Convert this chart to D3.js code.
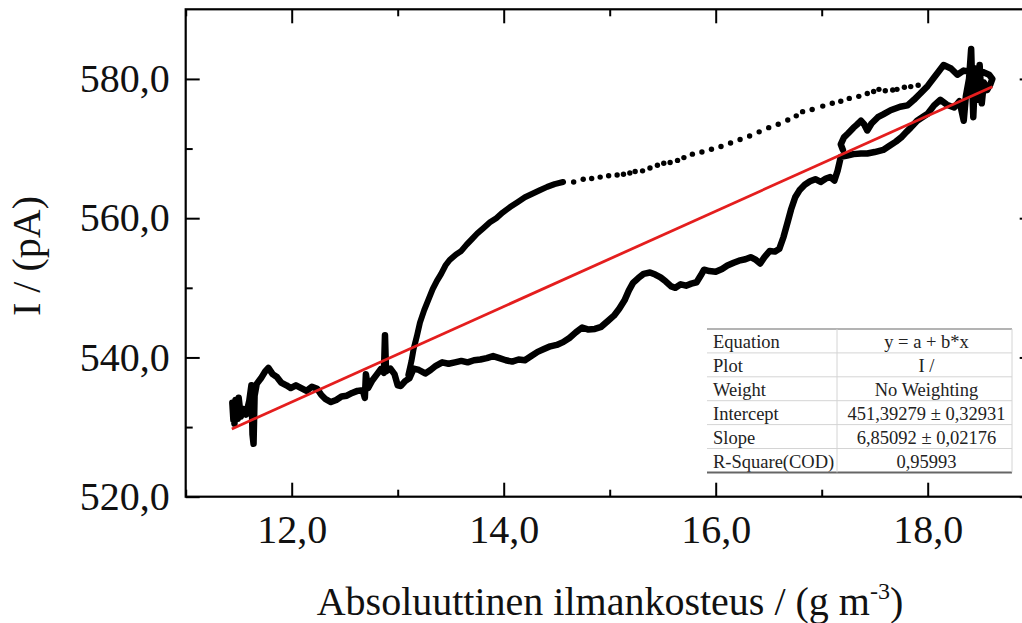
<!DOCTYPE html>
<html>
<head>
<meta charset="utf-8">
<script src="https://cdn.jsdelivr.net/npm/d3@7"></script>
<style>
  html, body { margin: 0; padding: 0; background: #fff; }
  svg { display: block; font-family: "Liberation Serif", "Times New Roman", serif; }
</style>
</head>
<body>
<svg id="chart" width="1022" height="623"></svg>
<script>
// ---------- data ----------
const xTicks = [12, 14, 16, 18];
const xTickLabels = ["12,0", "14,0", "16,0", "18,0"];
const xMinorTicks = [11, 13, 15, 17, 19];
const yTicks = [520, 540, 560, 580];
const yTickLabels = ["520,0", "540,0", "560,0", "580,0"];
const yMinorTicks = [530, 550, 570];

// main (dense) trace: rising branch + loop near high humidity
const risingX = [11.45,11.44,11.46,11.47,11.49,11.50,11.52,11.54,11.57,11.60,11.62,11.63,11.64,11.65,11.67,11.71,11.75,11.78,11.82,11.86,11.90,11.95,11.99,12.04,12.09,12.14,12.19,12.24,12.28,12.32,12.37,12.42,12.47,12.52,12.57,12.62,12.67,12.69,12.70,12.72,12.76,12.80,12.84,12.87,12.88,12.89,12.93,12.97,13.00,13.03,13.07,13.11,13.15,13.20,13.26,13.31,13.36,13.42,13.48,13.54,13.60,13.66,13.72,13.78,13.84,13.90,13.96,14.02,14.08,14.14,14.20,14.26,14.32,14.38,14.44,14.50,14.56,14.62,14.68,14.74,14.80,14.86,14.92,14.98,15.04,15.09,15.14,15.18,15.22,15.27,15.32,15.38,15.43,15.48,15.53,15.58,15.62,15.67,15.72,15.77,15.82,15.86,15.89,15.94,16.00,16.06,16.11,16.17,16.22,16.28,16.33,16.38,16.42,16.46,16.51,16.56,16.60,16.64,16.68,16.71,16.75,16.79,16.84,16.89,16.94,16.99,17.04,17.08,17.12,17.15,17.18,17.24,17.30,17.37,17.43,17.50,17.58,17.64,17.70,17.75,17.80,17.84,17.90,17.96,18.00,18.06,18.12,18.18,18.25,18.30,18.34,18.36,18.39,18.41,18.42,18.43,18.45,18.47,18.49,18.51,18.53,18.56,18.59,18.61,18.58,18.52,18.46,18.41,18.34,18.28,18.22,18.15,18.10,18.06,18.00,17.93,17.87,17.81,17.74,17.65,17.58,17.53,17.47,17.43,17.40,17.37,17.33,17.30,17.25,17.21,17.18,17.20];
const risingY = [531.0,533.5,530.5,533.9,531.2,534.2,531.5,532.6,531.8,533.8,536.0,529.0,527.6,534.5,536.2,537.0,538.0,538.5,537.6,537.2,536.4,536.0,535.6,536.0,535.6,535.2,535.8,535.5,534.6,534.0,533.6,533.9,534.4,534.5,534.9,535.2,535.3,534.2,537.6,535.6,536.7,537.5,538.3,537.8,543.2,538.0,538.4,537.6,536.0,535.9,536.6,537.0,538.4,538.2,537.7,538.2,538.8,539.3,539.1,539.3,539.5,539.3,539.6,539.7,539.9,540.2,539.9,539.6,539.4,539.7,539.6,540.2,540.8,541.2,541.6,541.8,542.2,542.8,543.6,544.3,544.0,544.1,544.4,545.2,546.0,547.0,548.2,549.6,550.7,551.4,552.0,552.2,551.9,551.5,550.9,550.2,550.0,550.5,550.3,550.6,550.8,551.8,552.6,552.4,552.3,552.7,553.2,553.6,553.9,554.1,554.4,554.0,553.5,554.4,555.3,555.2,555.6,557.3,559.5,561.2,563.0,564.0,564.8,565.3,565.6,565.2,565.7,565.9,565.4,566.8,568.8,569.0,569.2,569.3,569.3,569.5,569.8,570.4,571.0,571.6,572.4,573.0,574.0,574.6,575.0,576.2,577.0,576.3,575.9,576.8,574.0,577.5,580.0,584.3,579.0,574.5,581.5,577.0,582.0,576.5,579.5,578.4,579.2,580.0,580.6,581.0,580.2,581.0,581.2,580.6,581.5,582.0,581.0,580.2,579.0,577.9,577.0,576.2,576.0,575.5,574.9,574.5,573.6,572.6,573.5,574.0,573.4,573.0,572.2,571.6,570.6,569.8];

// return branch, dense part
const returnX = [13.10,13.13,13.15,13.18,13.21,13.25,13.29,13.33,13.37,13.41,13.45,13.49,13.55,13.60,13.65,13.70,13.75,13.81,13.87,13.93,13.99,14.06,14.13,14.20,14.27,14.34,14.41,14.48,14.56];
const returnY = [537.5,539.5,541.2,543.0,545.0,546.8,548.3,549.8,551.0,552.0,553.2,554.0,554.8,555.3,556.2,557.0,557.8,558.6,559.4,560.0,560.8,561.6,562.3,563.0,563.5,564.0,564.5,564.9,565.2];

// return branch, sparse points
const dotX = [14.66,14.75,14.83,14.91,14.99,15.07,15.13,15.19,15.24,15.31,15.38,15.45,15.51,15.57,15.64,15.70,15.78,15.87,15.96,16.05,16.14,16.23,16.32,16.41,16.50,16.59,16.68,16.76,16.82,16.91,17.01,17.10,17.18,17.26,17.35,17.43,17.49,17.54,17.60,17.67,17.71,17.78,17.84,17.91];
const dotY = [565.2,565.6,565.7,565.9,566.1,566.2,566.3,566.5,566.7,566.8,567.2,567.6,567.9,568.0,568.3,568.7,569.2,569.5,569.9,570.3,570.8,571.3,571.8,572.4,573.0,573.5,574.1,574.7,575.3,575.6,576.1,576.5,576.8,577.2,577.5,577.9,578.2,578.5,578.3,578.4,578.5,578.8,578.9,579.1];

// linear fit endpoints
const fitX = [11.435, 18.61];
const fitY = [529.73, 578.89];

// fit table
const tableLabels = ["Equation", "Plot", "Weight", "Intercept", "Slope", "R-Square(COD)"];
const tableValues = ["y = a + b*x", "I /", "No Weighting", "451,39279 \u00b1 0,32931", "6,85092 \u00b1 0,02176", "0,95993"];

// ---------- layout ----------
const svg = d3.select("#chart");
const W = 1022, H = 623;
const pLeft = 185.7, pRight = 1033.7, pTop = 9.3, pBottom = 496.7;

svg.append("rect").attr("width", W).attr("height", H).attr("fill", "#fff");

const x = d3.scaleLinear().domain([11, 19]).range([pLeft, pRight]);
const y = d3.scaleLinear().domain([520, 590]).range([pBottom, pTop]);

const fontFam = '"Liberation Serif", "Times New Roman", serif';
const tickFont = 40;

// data
const lineGen = d3.line().x(d => x(d[0])).y(d => y(d[1]));
const rising = risingX.map((v, i) => [v, risingY[i]]);
const ret = returnX.map((v, i) => [v, returnY[i]]);
const dots = dotX.map((v, i) => [v, dotY[i]]);

const plot = svg.append("g");
plot.append("path").datum(rising).attr("d", lineGen)
  .attr("fill", "none").attr("stroke", "#000").attr("stroke-width", 6.5)
  .attr("stroke-linejoin", "round").attr("stroke-linecap", "round");
plot.append("path").datum(ret).attr("d", lineGen)
  .attr("fill", "none").attr("stroke", "#000").attr("stroke-width", 6)
  .attr("stroke-linejoin", "round").attr("stroke-linecap", "round");
plot.selectAll("circle.dot").data(dots).join("circle")
  .attr("class", "dot")
  .attr("cx", d => x(d[0])).attr("cy", d => y(d[1])).attr("r", 2.7)
  .attr("fill", "#000");

// fit line
plot.append("path").datum(fitX.map((v, i) => [v, fitY[i]])).attr("d", lineGen)
  .attr("fill", "none").attr("stroke", "#e41e1e").attr("stroke-width", 2.8);

// axes
function styleAxis(g) {
  g.select(".domain").remove();
  g.selectAll("line").attr("stroke", "#000").attr("stroke-width", 2);
  g.selectAll("text").attr("font-family", fontFam).attr("font-size", tickFont).attr("fill", "#111");
}
svg.append("g").attr("transform", `translate(0,${pBottom})`)
  .call(d3.axisBottom(x).tickValues(xTicks).tickFormat((d, i) => xTickLabels[i]).tickSize(-14).tickSizeOuter(0).tickPadding(18))
  .call(styleAxis);
svg.append("g").attr("transform", `translate(0,${pBottom})`)
  .call(d3.axisBottom(x).tickValues(xMinorTicks).tickFormat("").tickSize(-7).tickSizeOuter(0))
  .call(styleAxis);
svg.append("g").attr("transform", `translate(0,${pTop})`)
  .call(d3.axisTop(x).tickValues(xTicks).tickFormat("").tickSize(-14).tickSizeOuter(0))
  .call(styleAxis);
svg.append("g").attr("transform", `translate(0,${pTop})`)
  .call(d3.axisTop(x).tickValues(xMinorTicks).tickFormat("").tickSize(-7).tickSizeOuter(0))
  .call(styleAxis);
svg.append("g").attr("transform", `translate(${pLeft},0)`)
  .call(d3.axisLeft(y).tickValues(yTicks).tickFormat((d, i) => yTickLabels[i]).tickSize(-14).tickSizeOuter(0).tickPadding(16))
  .call(styleAxis);
svg.append("g").attr("transform", `translate(${pLeft},0)`)
  .call(d3.axisLeft(y).tickValues(yMinorTicks).tickFormat("").tickSize(-7).tickSizeOuter(0))
  .call(styleAxis);
svg.append("g").attr("transform", `translate(${pRight},0)`)
  .call(d3.axisRight(y).tickValues(yTicks).tickFormat("").tickSize(-14).tickSizeOuter(0))
  .call(styleAxis);
svg.append("g").attr("transform", `translate(${pRight},0)`)
  .call(d3.axisRight(y).tickValues(yMinorTicks).tickFormat("").tickSize(-7).tickSizeOuter(0))
  .call(styleAxis);

// frame
svg.append("rect").attr("x", pLeft).attr("y", pTop)
  .attr("width", pRight - pLeft).attr("height", pBottom - pTop)
  .attr("fill", "none").attr("stroke", "#000").attr("stroke-width", 2.2);

// axis titles
const xt = svg.append("text").attr("x", 610).attr("y", 615)
  .attr("text-anchor", "middle").attr("font-family", fontFam).attr("font-size", 40).attr("fill", "#111");
xt.append("tspan").text("Absoluuttinen ilmankosteus / (g m");
xt.append("tspan").attr("dy", -16).attr("font-size", 24).text("-3");
xt.append("tspan").attr("dy", 16).text(")");

svg.append("text").attr("transform", "translate(40,256) rotate(-90)")
  .attr("text-anchor", "middle").attr("font-family", fontFam).attr("font-size", 40).attr("fill", "#111")
  .text("I / (pA)");

// fit table
const tb = svg.append("g");
const tLeft = 707, tDiv = 837, tRight = 1012, tTop = 329, rowH = 23.9;
tb.append("rect").attr("x", tLeft).attr("y", tTop).attr("width", tRight - tLeft).attr("height", rowH * tableLabels.length).attr("fill", "#fff");
tableLabels.forEach((lab, i) => {
  const ry = tTop + i * rowH;
  tb.append("text").attr("x", tLeft + 6).attr("y", ry + 19).attr("font-family", fontFam)
    .attr("font-size", 18.5).attr("fill", "#222").text(lab);
  tb.append("text").attr("x", (tDiv + tRight) / 2 + 2).attr("y", ry + 19).attr("text-anchor", "middle")
    .attr("font-family", fontFam).attr("font-size", 18.5).attr("fill", "#222").text(tableValues[i]);
  if (i > 0) {
    tb.append("line").attr("x1", tLeft).attr("x2", tRight).attr("y1", ry).attr("y2", ry)
      .attr("stroke", "#d4d4d4").attr("stroke-width", 1);
  }
});
tb.append("line").attr("x1", tLeft).attr("x2", tRight).attr("y1", tTop).attr("y2", tTop)
  .attr("stroke", "#9a9a9a").attr("stroke-width", 1.5);
tb.append("line").attr("x1", tLeft).attr("x2", tRight).attr("y1", tTop + rowH * tableLabels.length).attr("y2", tTop + rowH * tableLabels.length)
  .attr("stroke", "#666").attr("stroke-width", 2);
tb.append("line").attr("x1", tDiv).attr("x2", tDiv).attr("y1", tTop).attr("y2", tTop + rowH * tableLabels.length)
  .attr("stroke", "#d4d4d4").attr("stroke-width", 1);
tb.append("line").attr("x1", tRight).attr("x2", tRight).attr("y1", tTop).attr("y2", tTop + rowH * tableLabels.length)
  .attr("stroke", "#d4d4d4").attr("stroke-width", 1);
</script>
</body>
</html>
